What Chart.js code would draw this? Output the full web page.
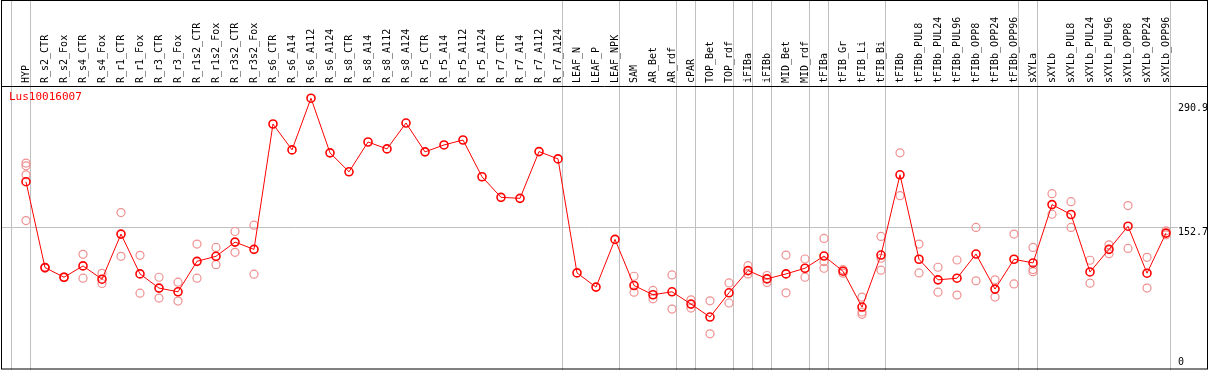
<!DOCTYPE html>
<html>
<head>
<meta charset="utf-8">
<script src="https://cdn.jsdelivr.net/npm/chart.js@4.4.1/dist/chart.umd.min.js"></script>
<style>
  body { margin: 0; background: #fff; }
  #mycanvas { display: block; }
</style>
</head>
<body>
<canvas id="mycanvas" width="1209" height="370"></canvas>
<script>
var geneName = "Lus10016007";

var samples = ["HYP","R_s2_CTR","R_s2_Fox","R_s4_CTR","R_s4_Fox","R_r1_CTR","R_r1_Fox","R_r3_CTR","R_r3_Fox",
  "R_r1s2_CTR","R_r1s2_Fox","R_r3s2_CTR","R_r3s2_Fox","R_s6_CTR","R_s6_A14","R_s6_A112","R_s6_A124",
  "R_s8_CTR","R_s8_A14","R_s8_A112","R_s8_A124","R_r5_CTR","R_r5_A14","R_r5_A112","R_r5_A124",
  "R_r7_CTR","R_r7_A14","R_r7_A112","R_r7_A124","LEAF_N","LEAF_P","LEAF_NPK","SAM","AR_Bet","AR_rdf",
  "cPAR","TOP_Bet","TOP_rdf","iFIBa","iFIBb","MID_Bet","MID_rdf","tFIBa","tFIB_Gr","tFIB_Li","tFIB_Bi",
  "tFIBb","tFIBb_PUL8","tFIBb_PUL24","tFIBb_PUL96","tFIBb_OPP8","tFIBb_OPP24","tFIBb_OPP96",
  "sXYLa","sXYLb","sXYLb_PUL8","sXYLb_PUL24","sXYLb_PUL96","sXYLb_OPP8","sXYLb_OPP24","sXYLb_OPP96"];

// mean expression per sample
var meanVals = [203.3,107.7,97.0,109.6,94.8,145.0,100.7,84.9,80.8,114.7,120.3,136.1,128.0,
  267.5,238.7,296.2,235.4,214.3,247.5,239.8,268.6,236.5,244.2,249.7,208.8,185.9,184.8,236.8,228.7,
  101.8,86.0,139.1,87.8,77.5,80.8,67.1,52.7,79.7,104.4,95.2,100.7,107.0,120.6,103.7,63.8,121.7,
  211.0,117.0,94.1,95.9,122.8,83.8,117.0,112.9,177.8,166.8,102.9,128.0,153.8,101.5,146.1];

// replicates (null = none shown)
var rep1 = [224,108,97.5,122.5,101.4,169,121.4,97,91.5,133.9,130.2,147.9,154.9,
  null,null,null,null,null,null,null,null,null,null,null,null,null,null,null,null,null,null,null,
  98.1,82.3,99.6,71.9,70.8,90.7,109.9,98.9,121.7,117.3,140.2,105.5,74.9,142.4,
  235.4,133.9,108.1,116.2,152.4,94.1,145,130.2,190,181.1,115.9,133.1,176.7,119.2,148.6];
var rep2 = [160,107,96.5,95.9,90.0,120.3,79.3,73.8,70.5,95.9,111,124.7,100.4,
  null,null,null,null,null,null,null,null,null,null,null,null,null,null,null,null,null,null,null,
  80.4,73,61.6,62.7,34,68.3,100.7,91.1,79.7,97,107,101.5,55.7,104.8,
  187.8,101.8,80.4,77.1,93,74.9,89.6,103.2,167.1,152.4,90.4,123.2,129.1,84.9,144.2];
var rep3 = [221,null,null,null,null,null,null,null,null,null,null,null,null,
  null,null,null,null,null,null,null,null,null,null,null,null,null,null,null,null,null,null,null,
  null,null,null,null,null,null,null,null,null,null,114.3,null,58.3,118.1,
  null,null,null,null,null,null,null,105.5,null,null,null,null,null,null,null];
var rep4 = [211];

var yTicks = [0, 152.7, 290.9];
var refLine = 152.7;
// groups end after these sample indexes
var groupEnds = [-1,0,28,31,34,35,37,38,39,41,42,45,52,53,60];

var repPoints = [];
[rep1, rep2, rep3, rep4].forEach(function(arr){
  for (var i = 0; i < arr.length; i++) {
    if (arr[i] != null) repPoints.push({x: samples[i], y: arr[i]});
  }
});

var frame = {
  id: 'frame',
  beforeDatasetsDraw: function(chart){
    var ctx = chart.ctx, xs = chart.scales.x, ys = chart.scales.y;
    var x0 = xs.getPixelForValue(0);
    var step = xs.getPixelForValue(1) - x0;
    ctx.save();
    ctx.strokeStyle = '#c0c0c0';
    ctx.lineWidth = 1;
    groupEnds.forEach(function(i){
      var px = Math.round(x0 + i * step) + 4.5;
      ctx.beginPath(); ctx.moveTo(px, 0); ctx.lineTo(px, 370); ctx.stroke();
    });
    var py = Math.round(ys.getPixelForValue(refLine)) + 0.5;
    ctx.beginPath(); ctx.moveTo(1, py); ctx.lineTo(chart.chartArea.right + 12, py); ctx.stroke();
    ctx.restore();
  },
  afterDraw: function(chart){
    var ctx = chart.ctx, ys = chart.scales.y;
    ctx.save();
    ctx.strokeStyle = '#000';
    ctx.lineWidth = 1;
    ctx.strokeRect(1.5, 0.5, 1206, 368.5);
    ctx.beginPath(); ctx.moveTo(1, 86.5); ctx.lineTo(1208, 86.5); ctx.stroke();
    ctx.font = '10px "DejaVu Sans Mono"';
    ctx.textBaseline = 'middle';
    ctx.fillStyle = '#000';
    yTicks.forEach(function(v){
      var ty = Math.min(ys.getPixelForValue(v) + 5, 362);
      ctx.fillText(String(v), chart.chartArea.right + 12, ty);
    });
    ctx.fillStyle = '#ff0000';
    ctx.font = '11px "DejaVu Sans Mono"';
    ctx.fillText(geneName, 9, 97);
    ctx.restore();
  }
};

var ctx = document.getElementById('mycanvas');
var chart = new Chart(ctx, {
  type: 'line',
  data: {
    labels: samples,
    datasets: [
      {
        label: 'mean',
        data: meanVals,
        borderColor: '#ff0000',
        borderWidth: 1,
        pointStyle: 'circle',
        pointRadius: 4,
        pointBorderWidth: 1.6,
        pointBorderColor: '#ff0000',
        pointBackgroundColor: 'rgba(0,0,0,0)',
        lineTension: 0,
        fill: false
      },
      {
        label: 'replicates',
        data: repPoints,
        showLine: false,
        pointStyle: 'circle',
        pointRadius: 4,
        pointBorderWidth: 1.2,
        pointBorderColor: '#f09090',
        pointBackgroundColor: 'rgba(0,0,0,0)',
        fill: false
      }
    ]
  },
  options: {
    responsive: false,
    devicePixelRatio: 1,
    animation: false,
    layout: { padding: { left: 26, right: 43, top: 0, bottom: 4 } },
    plugins: { legend: { display: false }, tooltip: { enabled: false } },
    scales: {
      x: {
        position: 'top',
        offset: false,
        grid: { display: false, drawTicks: false },
        border: { display: false },
        ticks: {
          autoSkip: false, maxRotation: 90, minRotation: 90, padding: 3, labelOffset: 12,
          color: '#000', font: { family: '"DejaVu Sans Mono"', size: 10 }
        },
        afterFit: function(scale){ scale.height = 86; }
      },
      y: {
        display: false,
        min: 0,
        max: 309.8
      }
    }
  },
  plugins: [frame]
});
</script>
</body>
</html>
